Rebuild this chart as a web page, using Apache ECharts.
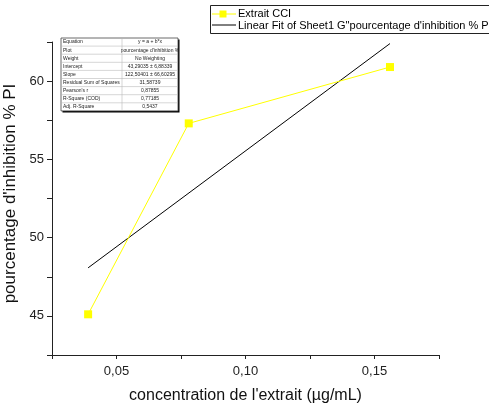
<!DOCTYPE html>
<html>
<head>
<meta charset="utf-8">
<script src="https://cdn.jsdelivr.net/npm/echarts@6/dist/echarts.min.js"></script>
<style>
  html, body { margin: 0; padding: 0; background: #fff; }
  #chart { width: 489px; height: 410px; }
</style>
</head>
<body>
<div id="chart"></div>
<script>
// Measured inhibition by extract concentration
const concentrations = [0.039, 0.078, 0.156];
const inhibition = [45.1, 57.3, 60.9];

// Linear fit endpoints (y = 43.29 + 122.50 x) over the measured range
const fitX = [0.039, 0.156];
const fitY = [48.07, 62.40];

// Fit summary table
const tableLabels = ['Equation', 'Plot', 'Weight', 'Intercept', 'Slope',
  'Residual Sum of Squares', "Pearson's r", 'R-Square (COD)', 'Adj. R-Square'];
const tableValues = ['y = a + b*x', "pourcentage d'inhibition %", 'No Weighting',
  '43,29035 \u00b1 6,88339', '122,50401 \u00b1 66,60295', '31,58739',
  '0,87855', '0,77185', '0,5437'];

const seriesNames = ['Extrait CCI', 'Linear Fit of Sheet1 G"pourcentage d\'inhibition % PI"'];

const fmt = v => v.toFixed(2).replace('.', ',');
const isMult = (v, step) => Math.abs(v / step - Math.round(v / step)) < 1e-6;
const FONT = 'Liberation Sans';

// Fit summary table drawn as graphics
const tX = 61, tY = 38, tW = 117, rowH = 8.1, splitX = 122;
const tableEls = [];
tableEls.push({ type: 'rect', shape: { x: tX + 1.5, y: tY + 1.5, width: tW, height: rowH * tableLabels.length },
  style: { fill: '#000' } });
tableEls.push({ type: 'rect', shape: { x: tX, y: tY, width: tW, height: rowH * tableLabels.length },
  style: { fill: '#fff', stroke: '#444', lineWidth: 0.8 } });
tableLabels.forEach((lab, i) => {
  const y = tY + i * rowH;
  if (i > 0) {
    tableEls.push({ type: 'line', shape: { x1: tX + 1, y1: y, x2: tX + tW - 1, y2: y },
      style: { stroke: '#bbb', lineWidth: 0.6 } });
  }
  tableEls.push({ type: 'text', x: tX + 2, y: y + rowH / 2,
    style: { text: lab, fontSize: 5, fontFamily: FONT, fill: '#222', verticalAlign: 'middle', align: 'left' } });
  tableEls.push({ type: 'text', x: (splitX + tX + tW) / 2, y: y + rowH / 2,
    style: { text: tableValues[i], fontSize: 5, fontFamily: FONT, fill: '#222', verticalAlign: 'middle', align: 'center' } });
});
tableEls.push({ type: 'line', shape: { x1: splitX, y1: tY + 1, x2: splitX, y2: tY + rowH * tableLabels.length - 1 },
  style: { stroke: '#bbb', lineWidth: 0.6 } });

// Legend box drawn as graphics
const lgX = 210, lgY = 5, lgW = 290, lgH = 28;
const legendEls = [
  { type: 'rect', shape: { x: lgX + 0.5, y: lgY + 0.5, width: lgW, height: lgH },
    style: { fill: '#fff', stroke: '#222', lineWidth: 1 } },
  { type: 'line', shape: { x1: lgX + 2, y1: 14, x2: lgX + 26, y2: 14 },
    style: { stroke: '#ffff00', lineWidth: 1 } },
  { type: 'rect', shape: { x: lgX + 9.5, y: 10.5, width: 7, height: 7 },
    style: { fill: '#ffff00' } },
  { type: 'text', x: lgX + 28, y: 14,
    style: { text: seriesNames[0], fontSize: 11, fontFamily: FONT, fill: '#000', verticalAlign: 'middle' } },
  { type: 'line', shape: { x1: lgX + 2, y1: 25, x2: lgX + 26, y2: 25 },
    style: { stroke: '#000', lineWidth: 1 } },
  { type: 'text', x: lgX + 28, y: 25.5,
    style: { text: seriesNames[1], fontSize: 11, fontFamily: FONT, fill: '#000', verticalAlign: 'middle' } }
];

const chart = echarts.init(document.getElementById('chart'), null, { renderer: 'canvas' });
chart.setOption({
  animation: false,
  backgroundColor: '#fff',
  textStyle: { fontFamily: FONT },
  grid: { left: 52, right: 50, top: 42, bottom: 55, containLabel: false, outerBoundsMode: 'none' },
  xAxis: {
    type: 'value', min: 0.025, max: 0.175, interval: 0.025,
    splitLine: { show: false },
    axisLine: { onZero: false, lineStyle: { color: '#222', width: 1 } },
    axisTick: { length: 4, lineStyle: { color: '#222' } },
    axisLabel: { fontSize: 13, color: '#222', margin: 10,
      formatter: v => isMult(v, 0.05) ? fmt(v) : '' },
    name: "concentration de l'extrait (\u00b5g/mL)",
    nameLocation: 'middle', nameGap: 33,
    nameTextStyle: { fontSize: 16, color: '#111' }
  },
  yAxis: {
    type: 'value', min: 42.5, max: 62.5, interval: 2.5,
    splitLine: { show: false },
    axisLine: { onZero: false, lineStyle: { color: '#222', width: 1 } },
    axisTick: { length: 5, lineStyle: { color: '#222' } },
    axisLabel: { fontSize: 13, color: '#222', margin: 8,
      formatter: v => isMult(v, 5) ? String(v) : '' },
    name: "pourcentage d'inhibition % PI",
    nameLocation: 'middle', nameGap: 26,
    nameTextStyle: { fontSize: 17, color: '#111', padding: [0, 0, 0, 10] }
  },
  series: [
    {
      name: seriesNames[0], type: 'line',
      data: concentrations.map((c, i) => [c, inhibition[i]]),
      symbol: 'rect', symbolSize: 8,
      itemStyle: { color: '#ffff00' },
      lineStyle: { color: '#ffff00', width: 1 },
      z: 3
    },
    {
      name: seriesNames[1], type: 'line',
      data: fitX.map((c, i) => [c, fitY[i]]),
      symbol: 'none',
      itemStyle: { color: '#000' },
      lineStyle: { color: '#000', width: 1 },
      z: 2
    }
  ],
  graphic: tableEls.concat(legendEls)
});
</script>
</body>
</html>
